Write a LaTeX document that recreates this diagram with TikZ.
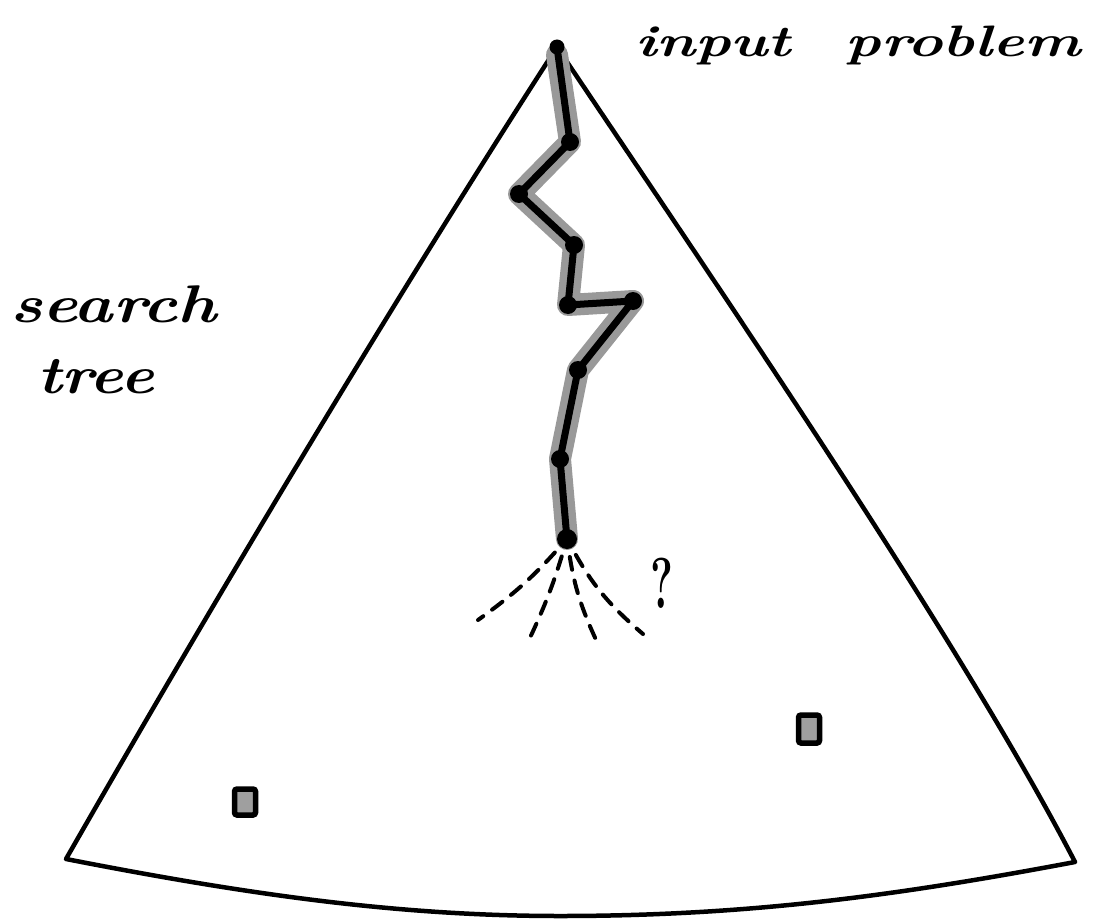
\documentclass[tikz,border=0pt]{standalone}
\usepackage{fontspec}
\usetikzlibrary{backgrounds}
\begin{document}
\begin{tikzpicture}[x=1pt,y=-1pt,
  edge/.style={line width=4.5pt, line join=round, line cap=round},
  halo/.style={line width=22pt, draw=gray!80, line join=round, line cap=round},
  pathline/.style={line width=7pt, line join=round, line cap=round},
  dot/.style={circle, fill=black, inner sep=0pt, minimum size=18pt},
  dashline/.style={line width=4pt, line cap=round, dash pattern=on 13pt off 11pt, shorten <=8pt},
  sq/.style={draw=black, line width=5.5pt, fill=gray!75, rounded corners=2.5pt, inner sep=0pt},
  label/.style={anchor=base west, inner sep=0pt}]
\useasboundingbox (0,0) rectangle (1094,920);

% path nodes
\node[dot, minimum size=15pt] (n0) at (557,47) {};
\node[dot] (n1) at (570,142) {};
\node[dot] (n2) at (519,194) {};
\node[dot] (n3) at (574,245) {};
\node[dot] (n4) at (568,305) {};
\node[dot] (n5) at (633,301) {};
\node[dot] (n6) at (578,370) {};
\node[dot] (n7) at (560,459) {};
\node[dot, minimum size=20pt] (n8) at (567,539) {};

\coordinate (e1) at (478,620);
\coordinate (e2) at (528,642);
\coordinate (e3) at (598,644);
\coordinate (e4) at (643,634);

% squares
\node[sq, minimum width=21pt, minimum height=26pt] (s1) at (245,802) {};
\node[sq, minimum width=21pt, minimum height=28pt] (s2) at (809,729) {};

% labels
\node[label] (inp) at (635,57) {\scalebox{1.36}[1]{\fontsize{44}{50}\selectfont\bfseries\itshape input\ \hspace{22pt}problem}};
\node[label] (srch) at (10,322) {\scalebox{1.25}[1]{\fontsize{53}{60}\selectfont\bfseries\itshape search}};
\node[label] (tree) at (37,393) {\scalebox{1.2}[1]{\fontsize{53}{60}\selectfont\bfseries\itshape tree}};
\node[label] (q) at (650,608) {\scalebox{0.6}[1]{\fontsize{72}{80}\selectfont\bfseries ?}};

\begin{scope}[on background layer]
  % triangle (search tree)
  \draw[edge] (557,47) .. controls (400,290) and (220,590) .. (66,859)
    .. controls (250,895) and (400,916) .. (560,916)
    .. controls (750,916) and (900,895) .. (1075,862)
    .. controls (960,640) and (720,290) .. (557,47);
  % highlighted path
  \draw[halo] (n0.south) -- (n1.center) -- (n2.center) -- (n3.center) -- (n4.center)
    -- (n5.center) -- (n6.center) -- (n7.center) -- (n8.center);
  \draw[pathline] (n0.center) -- (n1.center) -- (n2.center) -- (n3.center) -- (n4.center)
    -- (n5.center) -- (n6.center) -- (n7.center) -- (n8.center);
\end{scope}

% unexplored branches
\draw[dashline] (n8) to[bend left=6] (e1);
\draw[dashline] (n8) to[bend left=4] (e2);
\draw[dashline] (n8) to[bend right=8] (e3);
\draw[dashline] (n8) to[bend right=10] (e4);
\end{tikzpicture}
\end{document}
